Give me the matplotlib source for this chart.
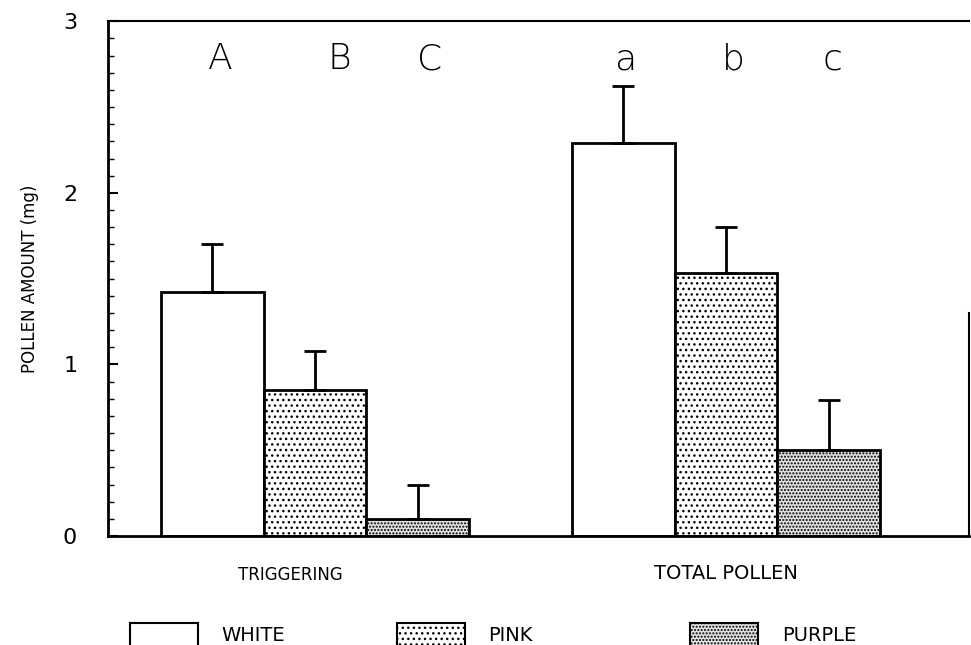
import matplotlib.pyplot as plt
import numpy as np
from matplotlib.patches import Patch

# data
groups = ['TRIGGERING', 'TOTAL POLLEN']
colours = ['WHITE', 'PINK', 'PURPLE']
means = {
    'WHITE': [1.42, 2.29],
    'PINK': [0.85, 1.53],
    'PURPLE': [0.10, 0.50],
}
errs = {
    'WHITE': [0.28, 0.33],
    'PINK': [0.23, 0.27],
    'PURPLE': [0.20, 0.29],
}
letters = [['A', 'B', 'C'], ['a', 'b', 'c']]

plt.rcParams['font.family'] = ['DejaVu Sans']
plt.rcParams['hatch.linewidth'] = 1.0

fig = plt.figure(figsize=(9.71, 6.45), dpi=100)
ax = fig.add_axes([0.111, 0.169, 0.887, 0.798])

x = np.arange(len(groups))
w = 0.25
hatches = {'WHITE': '', 'PINK': '...', 'PURPLE': '.....'}
faces = {'WHITE': 'white', 'PINK': 'white', 'PURPLE': '#e2e2e2'}

for i, c in enumerate(colours):
    xs = x + (i - 1) * w
    ax.bar(xs, means[c], width=w, color=faces[c], edgecolor='black',
           linewidth=2, hatch=hatches[c], zorder=2)
    ax.errorbar(xs, means[c], yerr=[np.zeros(len(x)), errs[c]], fmt='none',
                ecolor='black', elinewidth=2, capsize=8, capthick=2, zorder=3)

# significance letters
offs = [0.02, 0.06, 0.03]
for g in range(len(groups)):
    for i in range(3):
        ax.text(x[g] + (i - 1) * w + offs[i] * (1 if g == 0 else 0.3), 2.78,
                letters[g][i], ha='center', va='center', fontsize=26,
                fontweight='light')

ax.set_xlim(-0.504, 1.591)
ax.set_ylim(0, 3)
ax.set_yticks([0, 1, 2, 3])
ax.set_yticklabels(['0', '1', '2', '3'], fontsize=16)
ax.set_yticks(np.arange(0, 3.01, 0.1), minor=True)
ax.tick_params(axis='y', which='major', direction='in', length=7, width=1.5, pad=22)
ax.tick_params(axis='y', which='minor', direction='in', length=4, width=1)
ax.set_xticks([])

for s in ['left', 'bottom']:
    ax.spines[s].set_linewidth(2)
ax.spines['top'].set_linewidth(1.5)
ax.spines['right'].set_linewidth(1.5)
ax.spines['right'].set_bounds(0, 1.3)

ax.set_ylabel('POLLEN AMOUNT (mg)', fontsize=12, labelpad=17)

ax.text(x[0] - 0.06, -0.23, groups[0], ha='center', va='center', fontsize=12)
ax.text(x[1], -0.22, groups[1], ha='center', va='center', fontsize=14)

# legend entries placed one by one along the bottom
leg_x = [0.134, 0.409, 0.711]
for c, lx in zip(colours, leg_x):
    h = Patch(facecolor=faces[c], edgecolor='black', hatch=hatches[c],
              linewidth=1.5, label=c)
    fig.legend(handles=[h], loc='center left', bbox_to_anchor=(lx, 0.016),
               frameon=False, fontsize=14, handlelength=3.5, handleheight=1.5,
               handletextpad=1.2, borderpad=0, borderaxespad=0)

fig.savefig('out.png', dpi=100)
